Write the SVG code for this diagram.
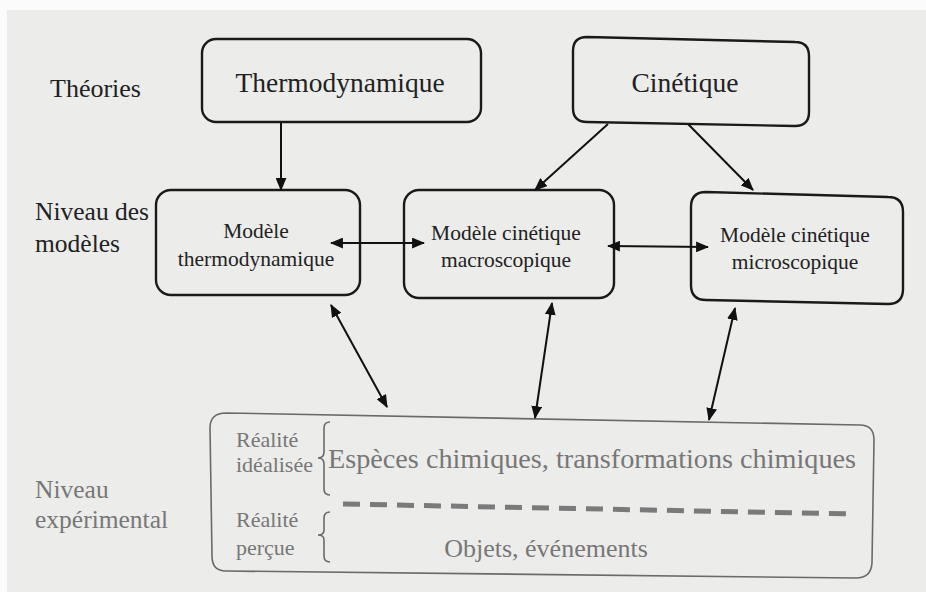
<svg xmlns="http://www.w3.org/2000/svg" width="926" height="592" viewBox="0 0 926 592">
<defs>
<style>
.bg{fill:#ececea}
.box{fill:none;stroke:#1a1a1a;stroke-width:2.4}
.gbox{fill:none;stroke:#6a6a6a;stroke-width:1.6}
text{font-family:'Liberation Serif','Times New Roman','DejaVu Serif',serif}
.t{fill:#222}
.g{fill:#777}
.c{stroke:#111;stroke-width:2;fill:none}
</style>
<marker id="ah" viewBox="0 0 12 10" refX="11" refY="5" markerWidth="13" markerHeight="11" markerUnits="userSpaceOnUse" orient="auto-start-reverse">
<path d="M0,0 L12,5 L0,10 z" fill="#111"/>
</marker>
</defs>
<rect x="0" y="0" width="926" height="592" fill="#fbfbfb"/>
<rect class="bg" x="7" y="10" width="919" height="582"/>

<text class="t" x="50" y="97" font-size="26">Théories</text>
<text class="t" x="35" y="220" font-size="25.5">Niveau des</text>
<text class="t" x="35" y="252" font-size="25.5">modèles</text>
<text class="g" x="35" y="498" font-size="25.5">Niveau</text>
<text class="g" x="35" y="528" font-size="25.5">expérimental</text>

<g id="thermo">
<rect class="box" x="202" y="39" width="279" height="83" rx="14"/>
<text class="t" x="340" y="92" font-size="27.5" text-anchor="middle">Thermodynamique</text>
</g>
<g id="cinetique">
<path class="box" d="M587,37 L795,42 Q809,42 809,56 L809,112 Q809,126 795,126 L587,122 Q573,122 573,108 L573,51 Q573,37 587,37 Z"/>
<text class="t" x="685" y="92" font-size="27.5" text-anchor="middle">Cinétique</text>
</g>
<g id="modele-thermo">
<rect class="box" x="156" y="190" width="204" height="105" rx="15"/>
<text class="t" x="256" y="238" font-size="21.5" text-anchor="middle">Modèle</text>
<text class="t" x="256" y="266" font-size="21.5" text-anchor="middle">thermodynamique</text>
</g>
<g id="modele-macro">
<rect class="box" x="404" y="190" width="210" height="108" rx="15"/>
<text class="t" x="506" y="240" font-size="21.5" text-anchor="middle">Modèle cinétique</text>
<text class="t" x="506" y="267" font-size="21.5" text-anchor="middle">macroscopique</text>
</g>
<g id="modele-micro">
<path class="box" d="M706,192 L888,197 Q903,197 903,212 L903,289 Q903,304 888,304 L706,300 Q691,300 691,285 L691,207 Q691,192 706,192 Z"/>
<text class="t" x="795" y="242" font-size="21.5" text-anchor="middle">Modèle cinétique</text>
<text class="t" x="795" y="269" font-size="21.5" text-anchor="middle">microscopique</text>
</g>
<g id="experimental">
<path class="gbox" d="M226,413 L860,425 Q874,425 874,440 L872,563 Q871,578 856,578 L226,571 Q212,571 212,556 L210,428 Q210,413 226,413 Z"/>
<text class="g" x="236" y="447" font-size="22">Réalité</text>
<text class="g" x="236" y="472" font-size="22">idéalisée</text>
<path class="gbox" d="M330,422 Q324,422 324,428 L324,452 Q324,458 318,458 Q324,458 324,464 L324,489 Q324,495 330,495"/>
<text class="g" x="328" y="468" font-size="27" textLength="528" lengthAdjust="spacingAndGlyphs">Espèces chimiques, transformations chimiques</text>
<line x1="343" y1="504" x2="853" y2="514" stroke="#7a7a7a" stroke-width="5" stroke-dasharray="17,10"/>
<text class="g" x="236" y="527" font-size="22">Réalité</text>
<text class="g" x="236" y="555" font-size="22">perçue</text>
<path class="gbox" d="M330,512 Q324,512 324,518 L324,530 Q324,535 318,535 Q324,535 324,540 L324,556 Q324,562 330,562"/>
<text class="g" x="546" y="557" font-size="26" text-anchor="middle">Objets,  événements</text>
</g>

<g id="connectors">
<line class="c" x1="281" y1="122" x2="281" y2="190" marker-end="url(#ah)"/>
<line class="c" x1="608" y1="124" x2="535" y2="190" marker-end="url(#ah)"/>
<line class="c" x1="688" y1="124" x2="753" y2="190" marker-end="url(#ah)"/>
<line class="c" x1="331" y1="243" x2="424" y2="243" marker-start="url(#ah)" marker-end="url(#ah)"/>
<line class="c" x1="608" y1="246" x2="708" y2="247" marker-start="url(#ah)" marker-end="url(#ah)"/>
<line class="c" x1="331" y1="305" x2="387" y2="407" marker-start="url(#ah)" marker-end="url(#ah)"/>
<line class="c" x1="552" y1="303" x2="535" y2="418" marker-start="url(#ah)" marker-end="url(#ah)"/>
<line class="c" x1="735" y1="308" x2="709" y2="420" marker-start="url(#ah)" marker-end="url(#ah)"/>
</g>
</svg>
